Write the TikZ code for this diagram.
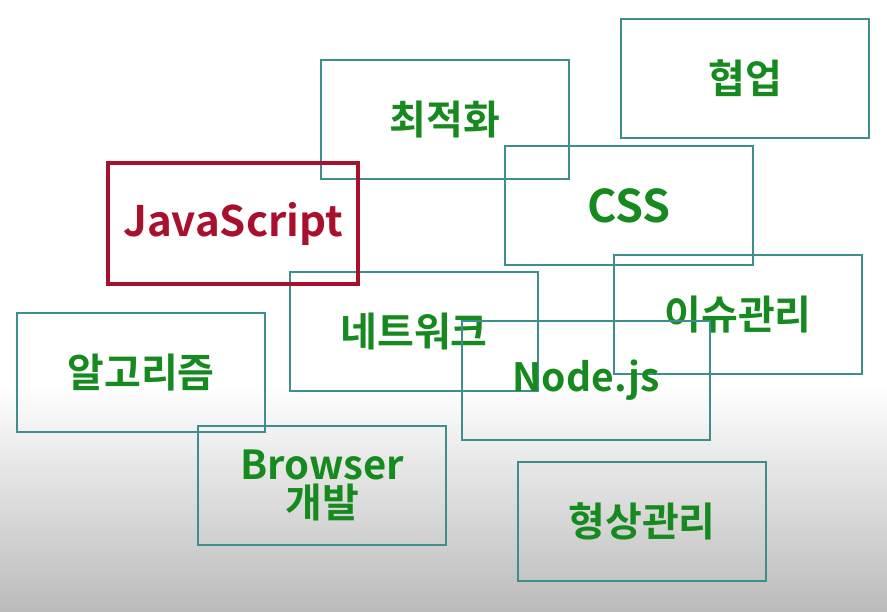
\documentclass[tikz,border=0pt]{standalone}
\usepackage{fontspec}
\setmainfont{Noto Sans CJK KR}[BoldFont={* Bold}]
\definecolor{boxteal}{HTML}{3E8E8E}
\definecolor{jsred}{HTML}{A8102E}
\definecolor{txtgreen}{HTML}{168A1E}
\definecolor{bggray}{HTML}{BBBBBB}
\tikzset{
  tbox/.style={draw=boxteal, line width=2pt, anchor=north west,
    minimum width=248pt, minimum height=119pt, inner sep=0pt,
    text=txtgreen, font=\fontsize{40}{40}\selectfont\bfseries, align=center},
  lat/.style={font=\fontsize{42}{40}\selectfont\bfseries},
  jsbox/.style={tbox, draw=jsred, line width=4pt, text=jsred, minimum width=250pt, minimum height=121pt}
}
\begin{document}
\begin{tikzpicture}[x=1pt,y=-1pt]
\useasboundingbox (0,0) rectangle (887,612);
\fill[white] (0,0) rectangle (887,385);
\shade[top color=white, bottom color=bggray] (0,385) rectangle (887,612);
\node[tbox] (hyeobeop) at (620,18) {협업};
\node[tbox] (choejeok) at (320,59) {최적화};
\node[tbox, font=\fontsize{45}{40}\selectfont\bfseries] (css) at (504,145) {CSS};
\node[tbox] (issue) at (613,254) {이슈관리};
\node[tbox] (network) at (289,271) {네트워크};
\node[tbox, font=\fontsize{39}{40}\selectfont\bfseries] (nodejs) at (461,320) {Node.js};
\node[tbox] (algo) at (16,312) {알고리즘};
\node[tbox] (browser) at (197,425) {{\fontsize{40}{39}\selectfont Browser}\\[-2pt]개발};
\node[tbox] (scm) at (517,461) {형상관리};
\node[jsbox, lat] (js) at (106,161) {\raisebox{-2pt}{JavaScript}};
\end{tikzpicture}
\end{document}
